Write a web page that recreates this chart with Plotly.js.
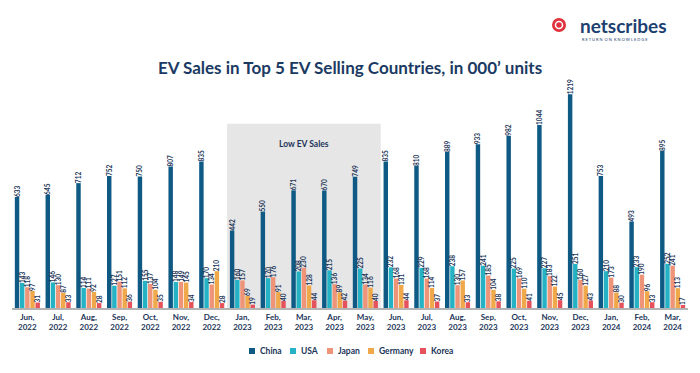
<!DOCTYPE html>
<html><head><meta charset="utf-8">
<script src="https://cdn.plot.ly/plotly-3.0.1.min.js"></script>
<style>html,body{margin:0;padding:0;background:#fff;}#chart{width:700px;height:373px;}</style>
</head><body><div id="chart"></div>
<script>
const months = ["Jun,<br>2022","Jul,<br>2022","Aug,<br>2022","Sep,<br>2022","Oct,<br>2022","Nov,<br>2022","Dec,<br>2022",
"Jan,<br>2023","Feb,<br>2023","Mar,<br>2023","Apr,<br>2023","May,<br>2023","Jun,<br>2023","Jul,<br>2023","Aug,<br>2023",
"Sep,<br>2023","Oct,<br>2023","Nov,<br>2023","Dec,<br>2023","Jan,<br>2024","Feb,<br>2024","Mar,<br>2024"];
const china   = [633,645,712,752,750,807,835,442,550,671,670,749,835,810,889,933,982,1044,1219,753,493,895];
const usa     = [143,146,114,127,155,148,170,160,170,208,215,225,232,229,238,241,225,227,251,210,233,252];
const japan   = [118,130,111,151,137,149,134,157,176,230,136,134,168,168,130,185,169,183,160,173,190,241];
const germany = [97,87,92,112,104,145,210,69,91,128,89,116,131,114,157,104,110,122,127,88,96,113];
const korea   = [31,33,28,36,35,34,28,19,40,44,42,40,44,37,33,38,41,45,43,30,33,17];
const seriesNames = ["China","USA","Japan","Germany","Korea"];
const colors = ["#0e5a84","#25b2c4","#ee9479","#efa84a","#e6525c"];
const allSeries = [china,usa,japan,germany,korea];
const navy = "#1b3558";

const traces = allSeries.map((vals,i)=>({
  type:"bar", name:seriesNames[i], x:months, y:vals,
  marker:{color:colors[i]},
  text:vals.map(String), textposition:"outside", textangle:-90,
  textfont:{size:6.5, color:navy, family:"Lato", weight:"bold"},
  constraintext:"none", cliponaxis:false, hoverinfo:"skip", showlegend:false
}));

// plot area geometry (pixels) for paper-coordinate placement of decorations
const PL = 12, PW = 676, PB = 308, PH = 228;
const px = v => (v - PL) / PW;
const py = v => (PB - v) / PH;

const legendLeft = [249, 290, 327, 368, 420];
const legendY = 351;

const shapes = [
  {type:"rect", xref:"x", yref:"y", x0:6.5, x1:11.5, y0:0, y1:1050, fillcolor:"#e6e6e6", line:{width:0}, layer:"below"},
  {type:"circle", xref:"paper", yref:"paper", x0:px(552), x1:px(566), y0:py(32), y1:py(18), fillcolor:"#e0323c", line:{width:0}},
  {type:"circle", xref:"paper", yref:"paper", x0:px(555.5), x1:px(562.5), y0:py(28.5), y1:py(21.5), fillcolor:"rgba(0,0,0,0)", line:{width:1.5, color:"#fff"}}
];
const annotations = [
  {text:"<b>Low EV Sales</b>", xref:"x", yref:"y", x:9, y:935, showarrow:false, font:{size:8.5, color:navy, family:"Lato"}},
  {text:"<b>netscribes</b>", xref:"paper", yref:"paper", x:px(578), y:py(26), xanchor:"left", yanchor:"middle", showarrow:false,
   font:{size:19, color:"#1c4170", family:"Lato"}},
  {text:"R E T U R N  O N  K N O W L E D G E", xref:"paper", yref:"paper", x:px(580), y:py(40), xanchor:"left", yanchor:"middle", showarrow:false,
   font:{size:4, color:"#1c4170", family:"Lato"}}
];
seriesNames.forEach((n,i)=>{
  shapes.push({type:"rect", xref:"paper", yref:"paper", x0:px(legendLeft[i]), x1:px(legendLeft[i]+6),
               y0:py(legendY+3), y1:py(legendY-3), fillcolor:colors[i], line:{width:0}});
  annotations.push({text:n, xref:"paper", yref:"paper", x:px(legendLeft[i]+9), y:py(legendY), xanchor:"left", yanchor:"middle",
                    showarrow:false, font:{size:8.5, color:navy, family:"Lato", weight:"bold"}});
});

const layout = {
  width:700, height:373,
  margin:{l:PL, r:700-PL-PW, t:PB-PH, b:373-PB},
  paper_bgcolor:"#fff", plot_bgcolor:"rgba(0,0,0,0)",
  barmode:"group", bargap:0.16, bargroupgap:0.14,
  font:{family:"Lato", color:navy},
  title:{text:"<b>EV Sales in Top 5 EV Selling Countries, in 000’ units</b>", x:0.5, xanchor:"center", y:0.817, yanchor:"middle", yref:"container",
         font:{size:17, color:"#1b3a63", family:"Lato"}},
  xaxis:{type:"category", showgrid:false, ticks:"", showline:true, linecolor:"#b3b3b3", linewidth:2,
         tickfont:{size:8, color:navy, family:"Lato", weight:"bold"}, tickangle:0, fixedrange:true},
  yaxis:{range:[0,1300], showgrid:false, zeroline:false, showticklabels:false, ticks:"", fixedrange:true},
  showlegend:false,
  shapes:shapes,
  annotations:annotations
};
Plotly.newPlot("chart", traces, layout, {displayModeBar:false, staticPlot:true});
</script></body></html>
